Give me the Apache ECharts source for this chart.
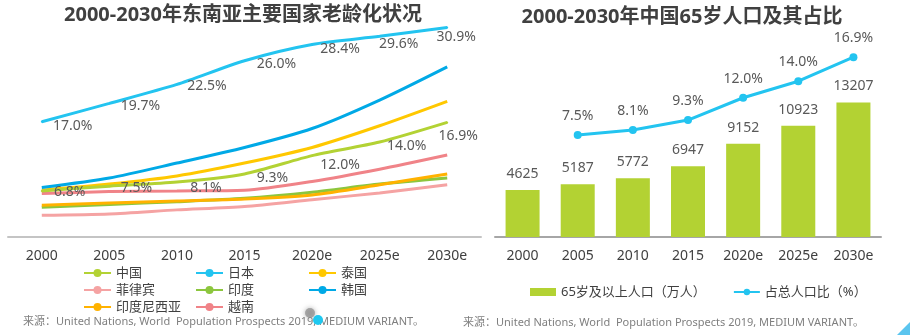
<!DOCTYPE html>
<html><head><meta charset="utf-8">
<script src="https://cdn.jsdelivr.net/npm/echarts@6/dist/echarts.min.js"></script>
<style>html,body{margin:0;padding:0;background:#fff}#c{width:910px;height:335px}</style>
</head><body><div id="c"></div>
<script>
const years = ['2000','2005','2010','2015','2020e','2025e','2030e'];
const china = [6.8, 7.5, 8.1, 9.3, 12.0, 14.0, 16.9];
const japan = [17.0, 19.7, 22.5, 26.0, 28.4, 29.6, 30.9];
const thailand = [6.9, 7.8, 9.0, 10.9, 13.2, 16.4, 20.0];
const philippines = [3.2, 3.4, 4.0, 4.5, 5.5, 6.5, 7.7];
const india = [4.4, 4.8, 5.2, 5.7, 6.6, 7.8, 8.7];
const korea = [7.3, 8.7, 10.9, 13.2, 16.0, 20.2, 25.1];
const indonesia = [4.7, 5.0, 5.3, 5.6, 6.2, 7.7, 9.3];
const vietnam = [6.4, 6.7, 6.8, 6.9, 8.2, 10.0, 12.1];
const pop65 = [4625, 5187, 5772, 6947, 9152, 10923, 13207];
const share65 = ['-', 7.5, 8.1, 9.3, 12.0, 14.0, 16.9];

const FONT = "'Noto Sans','Noto Sans CJK SC',sans-serif";
const LBL = '#595959';
const japanLabelOffset = [[31,4],[31,3],[30,2],[32,3],[28,5],[19,8],[9,10]];
const chinaLabelOffset = [[28,1],[27,2],[29,6],[28,4],[28,9],[27,4],[11,14]];

const chart = echarts.init(document.getElementById('c'), null, {renderer:'canvas'});

function lineSeries(name, data, color, labelOffsets) {
  const s = {
    name, type:'line', xAxisIndex:0, yAxisIndex:0, smooth:0.25,
    lineStyle:{color, width:3}, itemStyle:{color},
    symbol:'none', data: data, animation:false
  };
  if (labelOffsets) {
    s.symbol = 'circle'; s.symbolSize = 2; s.showSymbol = true;
    s.data = data.map((v,i)=>({value:v, label:{offset: labelOffsets[i]}}));
    s.label = {show:true, position:'inside', color:LBL, fontSize:14, fontFamily:FONT,
      formatter: p => Number(p.value).toFixed(1) + '%'};
  }
  return s;
}

const legendCommon = {orient:'vertical', padding:0, itemWidth:27, itemHeight:10, itemGap:3,
  textStyle:{fontSize:13, color:'#404040', lineHeight:14, fontFamily:FONT}};

const xCommon = {
  type:'category', data: years, boundaryGap:true,
  axisTick:{show:false},
  axisLabel:{fontSize:14, color:'#404040', margin:12, fontFamily:FONT}
};

const option = {
  animation:false,
  textStyle:{fontFamily:FONT},
  grid:[
    {left:8, width:473, top:20, height:217},
    {left:495, width:386, top:20, height:217}
  ],
  xAxis:[
    Object.assign({gridIndex:0, axisLine:{lineStyle:{color:'#c4c4c4', width:2}}}, xCommon),
    Object.assign({gridIndex:1, axisLine:{lineStyle:{color:'#a6a6a6', width:2}}}, xCommon)
  ],
  yAxis:[
    {gridIndex:0, type:'value', min:0, max:32, show:false},
    {gridIndex:1, type:'value', min:0, max:21300, show:false},
    {gridIndex:1, type:'value', min:-4.84, max:21.4, show:false}
  ],
  legend:[
    Object.assign({left:83, top:266, data:['中国','菲律宾','印度尼西亚']}, legendCommon),
    Object.assign({left:195, top:266, data:['日本','印度','越南']}, legendCommon),
    Object.assign({left:308, top:266, data:['泰国','韩国']}, legendCommon),
    {left:530, top:285, padding:0, itemWidth:26, itemHeight:8, itemGap:27,
     textStyle:{fontSize:13, color:'#404040', lineHeight:14, fontFamily:FONT},
     data:[{name:'65岁及以上人口（万人）', icon:'rect'}, {name:'占总人口比（%）'}]}
  ],
  series:[
    lineSeries('菲律宾', philippines, '#f5a3a3'),
    lineSeries('印度', india, '#8cc63e'),
    lineSeries('印度尼西亚', indonesia, '#ffb200'),
    lineSeries('越南', vietnam, '#f08388'),
    lineSeries('泰国', thailand, '#ffc800'),
    lineSeries('韩国', korea, '#00a9e6'),
    lineSeries('中国', china, '#b3d234', chinaLabelOffset),
    lineSeries('日本', japan, '#23c4f0', japanLabelOffset),
    {
      name:'65岁及以上人口（万人）', type:'bar', xAxisIndex:1, yAxisIndex:1,
      barWidth:34, data: pop65, itemStyle:{color:'#b3d233'},
      label:{show:true, position:'top', distance:9, color:LBL, fontSize:14, fontFamily:FONT}
    },
    {
      name:'占总人口比（%）', type:'line', xAxisIndex:1, yAxisIndex:2,
      data: share65, symbol:'circle', symbolSize:8, showSymbol:true,
      lineStyle:{color:'#23c4f0', width:3}, itemStyle:{color:'#23c4f0'},
      label:{show:true, position:'top', distance:8, color:LBL, fontSize:14, fontFamily:FONT,
        formatter: p => Number(p.value).toFixed(1) + '%'}
    }
  ],
  graphic:[
    {type:'text', x:243, y:15, style:{text:'2000-2030年东南亚主要国家老龄化状况', align:'center', verticalAlign:'middle',
      fontSize:20, fontWeight:'bold', fill:'#404040', fontFamily:FONT}},
    {type:'text', x:682, y:17, style:{text:'2000-2030年中国65岁人口及其占比', align:'center', verticalAlign:'middle',
      fontSize:20, fontWeight:'bold', fill:'#404040', fontFamily:FONT}},
    {type:'text', x:23, y:322, style:{text:'来源：United Nations, World  Population Prospects 2019, MEDIUM VARIANT。', align:'left', verticalAlign:'middle',
      fontSize:11, fill:'#7f7f7f', fontFamily:FONT}},
    {type:'text', x:463, y:322.5, style:{text:'来源：United Nations, World  Population Prospects 2019, MEDIUM VARIANT。', align:'left', verticalAlign:'middle',
      fontSize:11, fill:'#7f7f7f', fontFamily:FONT}},
    {type:'circle', shape:{cx:310, cy:313, r:5}, style:{fill:'rgba(140,140,140,0.7)', shadowBlur:5, shadowColor:'rgba(120,120,120,0.8)'}, z:10},
    {type:'circle', shape:{cx:318, cy:320, r:5}, style:{fill:'#1ec8f0'}, z:11},
    {type:'polygon', shape:{points:[[897,335],[910,322],[910,335]]}, style:{fill:'#5bc5ef'}, z:10}
  ]
};
chart.setOption(option);
</script></body></html>
